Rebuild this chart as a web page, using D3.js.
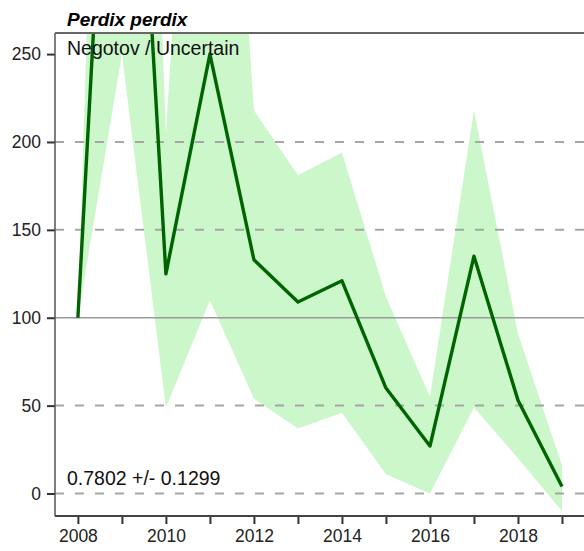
<!DOCTYPE html>
<html>
<head>
<meta charset="utf-8">
<script src="https://cdn.jsdelivr.net/npm/d3@7"></script>
<style>
  body { margin: 0; background: #fff; }
  svg { display: block; font-family: Arial, "Liberation Sans", sans-serif; }
</style>
</head>
<body>
<svg></svg>
<script>
const years = [2008, 2009, 2010, 2011, 2012, 2013, 2014, 2015, 2016, 2017, 2018, 2019]
const index = [100, 560, 125, 250, 133, 109, 121, 60, 27, 135, 53, 4]
const upper = [100, 900, 205, 600, 218, 181, 194, 112, 55, 218, 91, 16]
const lower = [100, 250, 49, 110, 54, 37, 46, 11, 0, 49, 20, -10]
const yTicks = [0, 50, 100, 150, 200, 250]
const gridValues = [0, 50, 150, 200]
const xLabels = [2008, 2010, 2012, 2014, 2016, 2018]

const graphWidth = 584
const graphHeight = 551
const plotLeft = 55
const plotTop = 33
const plotBottom = 516
const plotRight = 584

const svg = d3.select('svg')
              .attr('width', graphWidth)
              .attr('height', graphHeight)

const data = years.map((y, i) => ({ year: y, value: index[i], hi: upper[i], lo: lower[i] }))

const xScale = d3.scaleLinear()
                 .domain([2007.48, 2019.5])
                 .range([plotLeft, plotRight])
const yScale = d3.scaleLinear()
                 .domain([-12.8, 262])
                 .range([plotBottom, plotTop])

svg.append('clipPath')
   .attr('id', 'plot-clip')
   .append('rect')
   .attr('x', plotLeft)
   .attr('y', plotTop)
   .attr('width', plotRight - plotLeft)
   .attr('height', plotBottom - plotTop)

const plot = svg.append('g').attr('clip-path', 'url(#plot-clip)')

// confidence band
const area = d3.area()
               .x(d => xScale(d.year))
               .y0(d => yScale(d.lo))
               .y1(d => yScale(d.hi))
plot.append('path')
    .datum(data)
    .attr('d', area)
    .attr('fill', '#cbf7cb')

// grid lines
plot.selectAll('.grid')
    .data(gridValues)
    .join('line')
    .attr('x1', plotLeft)
    .attr('x2', plotRight)
    .attr('y1', d => yScale(d))
    .attr('y2', d => yScale(d))
    .attr('stroke', '#a6a6a6')
    .attr('stroke-width', 2)
    .attr('stroke-dasharray', '9,11')

plot.append('line')
    .attr('x1', plotLeft)
    .attr('x2', plotRight)
    .attr('y1', yScale(100))
    .attr('y2', yScale(100))
    .attr('stroke', '#9a9a9a')
    .attr('stroke-width', 1.5)

const line = d3.line()
               .x(d => xScale(d.year))
               .y(d => yScale(d.value))
plot.append('path')
    .datum(data)
    .attr('d', line)
    .attr('fill', 'none')
    .attr('stroke', '#006400')
    .attr('stroke-width', 3.4)
    .attr('stroke-linejoin', 'round')

// axes
const yAxis = d3.axisLeft(yScale)
                .tickValues(yTicks)
                .tickSize(8)
                .tickSizeOuter(0)
const yG = svg.append('g')
              .attr('transform', `translate(${plotLeft},0)`)
              .call(yAxis)
yG.select('.domain').remove()
yG.selectAll('.tick line').attr('stroke', '#333').attr('stroke-width', 2)
yG.selectAll('.tick text')
  .attr('x', -14)
  .attr('fill', '#222')
  .style('font-size', '17.5px')

const xAxis = d3.axisBottom(xScale)
                .tickValues(years)
                .tickSize(8)
                .tickSizeOuter(0)
                .tickFormat(d => xLabels.includes(d) ? d : '')
const xG = svg.append('g')
              .attr('transform', `translate(0,${plotBottom})`)
              .call(xAxis)
xG.select('.domain').remove()
xG.selectAll('.tick line').attr('stroke', '#333').attr('stroke-width', 2)
xG.selectAll('.tick text')
  .attr('y', 14)
  .attr('fill', '#222')
  .style('font-size', '17.5px')

// frame
svg.append('line')
   .attr('x1', plotLeft).attr('x2', plotLeft)
   .attr('y1', plotTop).attr('y2', plotBottom)
   .attr('stroke', '#555').attr('stroke-width', 1.5)
svg.append('line')
   .attr('x1', plotLeft).attr('x2', plotRight)
   .attr('y1', plotTop).attr('y2', plotTop)
   .attr('stroke', '#666').attr('stroke-width', 2)
svg.append('line')
   .attr('x1', plotLeft).attr('x2', plotRight)
   .attr('y1', plotBottom).attr('y2', plotBottom)
   .attr('stroke', '#444').attr('stroke-width', 2)

// labels
svg.append('text')
   .text('Perdix perdix')
   .attr('x', 67)
   .attr('y', 26)
   .style('font-size', '19px')
   .style('font-weight', 'bold')
   .style('font-style', 'italic')

svg.append('text')
   .text('Negotov / Uncertain')
   .attr('x', 67)
   .attr('y', 55)
   .style('font-size', '19.5px')
   .attr('fill', '#111')

svg.append('text')
   .text('0.7802 +/- 0.1299')
   .attr('x', 67)
   .attr('y', 485)
   .style('font-size', '19.5px')
   .attr('fill', '#111')
</script>
</body>
</html>
